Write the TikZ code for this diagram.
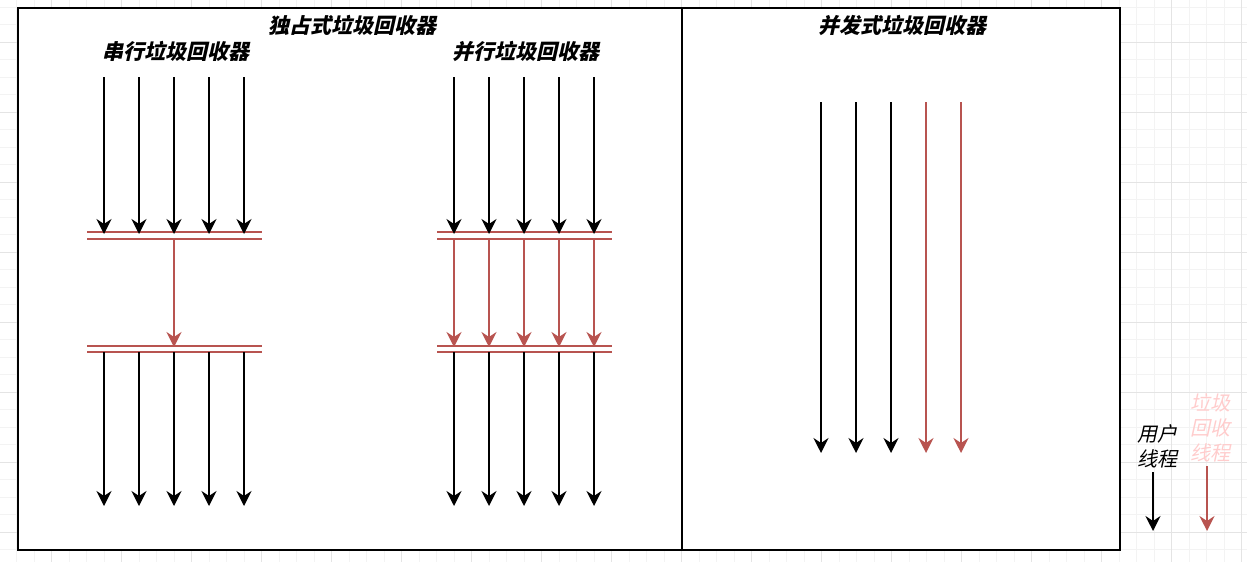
\documentclass[tikz,border=0pt]{standalone}
\usepackage{fontspec}
\newfontfamily\cjk[FakeSlant=0.22]{Noto Sans CJK SC}
\usetikzlibrary{arrows.meta}
\definecolor{gcred}{HTML}{B85450}
\definecolor{gcpink}{HTML}{FFCCCC}
\definecolor{gridminor}{HTML}{F3F3F3}
\definecolor{gridmajor}{HTML}{E4E4E4}
\tikzset{
  title/.style={font=\cjk\bfseries\fontsize{21}{23}\selectfont, inner sep=0pt, anchor=center},
  legend/.style={font=\cjk\fontsize{20}{25}\selectfont, inner sep=0pt, align=center},
  tip/.style={-{Stealth[length=15pt,width=15pt,inset=5pt]}},
  userarrow/.style={draw=black, line width=1.6pt, tip},
  gcarrow/.style={draw=gcred, line width=1.6pt, tip},
  barrier/.style={draw=gcred, line width=1.6pt},
  panel/.style={draw=black, line width=1.6pt}
}
\begin{document}
\begin{tikzpicture}[x=1pt,y=-1pt]
\useasboundingbox (0,0) rectangle (1247,562);
% grid
\foreach \i in {0,...,72} {
  \pgfmathsetmacro\gx{16.7+17.5*\i}
  \draw[gridminor, line width=0.8pt] (\gx,0) -- (\gx,562);
}
\foreach \i in {0,...,32} {
  \pgfmathsetmacro\gy{7.3+17.5*\i}
  \draw[gridminor, line width=0.8pt] (0,\gy) -- (1247,\gy);
}
\foreach \i in {0,...,17} {
  \pgfmathsetmacro\gx{51.7+70*\i}
  \draw[gridmajor, line width=0.8pt] (\gx,0) -- (\gx,562);
}
\foreach \i in {0,...,8} {
  \pgfmathsetmacro\gy{42.3+70*\i}
  \draw[gridmajor, line width=0.8pt] (0,\gy) -- (1247,\gy);
}
% panels
\node[panel, fill=white, minimum width=664pt, minimum height=542pt, inner sep=0pt, anchor=north west] (excl) at (17,7) {};
\node[panel, fill=white, minimum width=438pt, minimum height=542pt, inner sep=0pt, anchor=north west] (conc) at (681,7) {};
% titles
\node[title] (t1) at (352,25) {独占式垃圾回收器};
\node[title] (t2) at (176,51) {串行垃圾回收器};
\node[title] (t3) at (526,51) {并行垃圾回收器};
\node[title] (t4) at (902,25) {并发式垃圾回收器};
% barriers
\foreach \n/\xa/\xb in {s/87/262, p/437/612} {
  \coordinate (\n b1l) at (\xa,232); \coordinate (\n b1r) at (\xb,232);
  \coordinate (\n b2l) at (\xa,239); \coordinate (\n b2r) at (\xb,239);
  \coordinate (\n b3l) at (\xa,346); \coordinate (\n b3r) at (\xb,346);
  \coordinate (\n b4l) at (\xa,352); \coordinate (\n b4r) at (\xb,352);
  \draw[barrier] (\n b1l) -- (\n b1r);
  \draw[barrier] (\n b2l) -- (\n b2r);
  \draw[barrier] (\n b3l) -- (\n b3r);
  \draw[barrier] (\n b4l) -- (\n b4r);
}
% serial & parallel user threads
\foreach \n/\xs in {s/104, p/454} {
  \foreach \k in {0,...,4} {
    \pgfmathsetmacro\xx{\xs+35*\k}
    \coordinate (\n a\k) at (\xx,77);
    \coordinate (\n b\k) at (\xx,234);
    \coordinate (\n c\k) at (\xx,352);
    \coordinate (\n d\k) at (\xx,506);
    \draw[userarrow] (\n a\k) -- (\n b\k);
    \draw[userarrow] (\n c\k) -- (\n d\k);
  }
}
% serial GC thread
\coordinate (sg0) at (174,239);
\coordinate (sg1) at (174,347);
\draw[gcarrow] (sg0) -- (sg1);
% parallel GC threads
\foreach \k in {0,...,4} {
  \pgfmathsetmacro\xx{454+35*\k}
  \coordinate (pg\k a) at (\xx,239);
  \coordinate (pg\k b) at (\xx,347);
  \draw[gcarrow] (pg\k a) -- (pg\k b);
}
% concurrent
\foreach \k in {0,1,2} {
  \pgfmathsetmacro\xx{821+35*\k}
  \coordinate (cu\k a) at (\xx,102);
  \coordinate (cu\k b) at (\xx,453);
  \draw[userarrow] (cu\k a) -- (cu\k b);
}
\foreach \k in {0,1} {
  \pgfmathsetmacro\xx{926+35*\k}
  \coordinate (cg\k a) at (\xx,102);
  \coordinate (cg\k b) at (\xx,453);
  \draw[gcarrow] (cg\k a) -- (cg\k b);
}
% legend
\node[legend, text=black] (lu) at (1157,446) {用户\\线程};
\node[legend, text=gcpink] (lg) at (1210,428) {垃圾\\回收\\线程};
\coordinate (lus) at (1153,472);
\coordinate (lue) at (1153,531);
\coordinate (lgs) at (1207,466);
\coordinate (lge) at (1207,531);
\draw[userarrow] (lus) -- (lue);
\draw[gcarrow] (lgs) -- (lge);
\end{tikzpicture}
\end{document}
